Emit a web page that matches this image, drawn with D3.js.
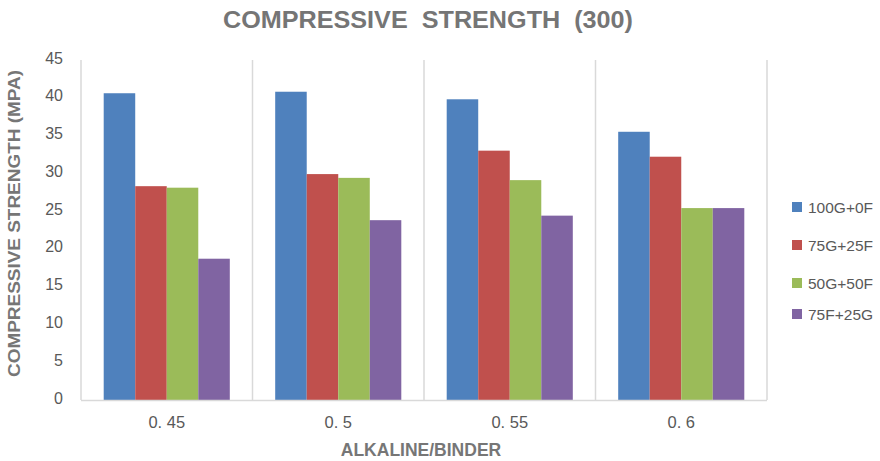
<!DOCTYPE html>
<html>
<head>
<meta charset="utf-8">
<script src="https://cdn.jsdelivr.net/npm/d3@7/dist/d3.min.js"></script>
<style>
  html, body { margin: 0; padding: 0; background: #fff; }
  svg { display: block; font-family: "Liberation Sans", Arial, sans-serif; }
</style>
</head>
<body>
<div id="chart"></div>
<script>
// Alkaline/binder ratios on the x axis
const categories = ["0. 45", "0. 5", "0. 55", "0. 6"];
// Binder mixes
const seriesNames = ["100G+0F", "75G+25F", "50G+50F", "75F+25G"];
// Compressive strength (MPa) per mix, one value per ratio
const s100G0F  = [40.6, 40.8, 39.8, 35.5];
const s75G25F  = [28.3, 29.9, 33.0, 32.2];
const s50G50F  = [28.1, 29.4, 29.1, 25.4];
const s75F25G  = [18.7, 23.8, 24.4, 25.4];
const yTicks = [0, 5, 10, 15, 20, 25, 30, 35, 40, 45];
const colors = ["#4F81BD", "#C0504D", "#9BBB59", "#8064A2"];

const seriesValues = [s100G0F, s75G25F, s50G50F, s75F25G];

const W = 880, H = 461;
const plot = { left: 81, right: 767, top: 60, bottom: 400 };

const svg = d3.select("#chart").append("svg")
  .attr("width", W).attr("height", H);

const x0 = d3.scaleBand().domain(categories)
  .range([plot.left, plot.right]).paddingInner(0).paddingOuter(0);

// bar width with a 144% gap between clusters
const bw = x0.bandwidth();
const barW = bw / (4 + 1.44);
const gap = (bw - 4 * barW) / 2;
const x1 = d3.scaleBand().domain(seriesNames).range([gap, bw - gap]).padding(0);

const y = d3.scaleLinear().domain([0, 45]).range([plot.bottom, plot.top]);

// Vertical separators between categories
const seps = [plot.left, ...categories.map(c => x0(c) + bw)];
svg.append("g").selectAll("line").data(seps).join("line")
  .attr("x1", d => d).attr("x2", d => d)
  .attr("y1", y(45)).attr("y2", y(0))
  .attr("stroke", "#d9d9d9").attr("stroke-width", 1.5);

// Bars
const groups = svg.append("g").selectAll("g").data(categories).join("g")
  .attr("transform", c => `translate(${x0(c)},0)`);
groups.selectAll("rect")
  .data((c, ci) => seriesNames.map((s, si) => ({ s, si, v: seriesValues[si][ci] })))
  .join("rect")
  .attr("x", d => x1(d.s))
  .attr("width", x1.bandwidth())
  .attr("y", d => y(d.v))
  .attr("height", d => y(0) - y(d.v))
  .attr("fill", d => colors[d.si]);

// Category axis line
svg.append("line")
  .attr("x1", plot.left).attr("x2", plot.right)
  .attr("y1", y(0) + 0.5).attr("y2", y(0) + 0.5)
  .attr("stroke", "#d9d9d9").attr("stroke-width", 1.5);

// Value axis labels
svg.append("g").selectAll("text").data(yTicks).join("text")
  .attr("x", 63).attr("y", d => y(d) - 2)
  .attr("dy", "0.35em")
  .attr("text-anchor", "end")
  .attr("font-size", 16).attr("fill", "#595959")
  .text(d => d);

// Category labels
svg.append("g").selectAll("text").data(categories).join("text")
  .attr("x", c => x0(c) + bw / 2).attr("y", 428)
  .attr("text-anchor", "middle")
  .attr("font-size", 16.5).attr("fill", "#595959")
  .text(c => c);

// Title
svg.append("text")
  .attr("x", 428).attr("y", 28)
  .attr("text-anchor", "middle")
  .attr("font-size", 23).attr("font-weight", "bold").attr("fill", "#757575")
  .attr("textLength", 410).attr("lengthAdjust", "spacingAndGlyphs")
  .attr("xml:space", "preserve")
  .text("COMPRESSIVE  STRENGTH  (300)");

// Axis titles
svg.append("text")
  .attr("x", 421).attr("y", 456)
  .attr("text-anchor", "middle")
  .attr("font-size", 17.5).attr("font-weight", "bold").attr("fill", "#767676")
  .text("ALKALINE/BINDER");

svg.append("text")
  .attr("transform", "translate(20,223.5) rotate(-90)")
  .attr("text-anchor", "middle")
  .attr("font-size", 17).attr("font-weight", "bold").attr("fill", "#767676")
  .attr("textLength", 307).attr("lengthAdjust", "spacingAndGlyphs")
  .text("COMPRESSIVE STRENGTH (MPA)");

// Legend
const legendY = [207, 245, 283, 314];
const legend = svg.append("g").selectAll("g").data(seriesNames).join("g")
  .attr("transform", (d, i) => `translate(792,${legendY[i]})`);
legend.append("rect")
  .attr("x", 0).attr("y", -5).attr("width", 10).attr("height", 10)
  .attr("fill", (d, i) => colors[i]);
legend.append("text")
  .attr("x", 16).attr("y", 0).attr("dy", "0.36em")
  .attr("font-size", 15.5).attr("fill", "#595959")
  .text(d => d);
</script>
</body>
</html>
